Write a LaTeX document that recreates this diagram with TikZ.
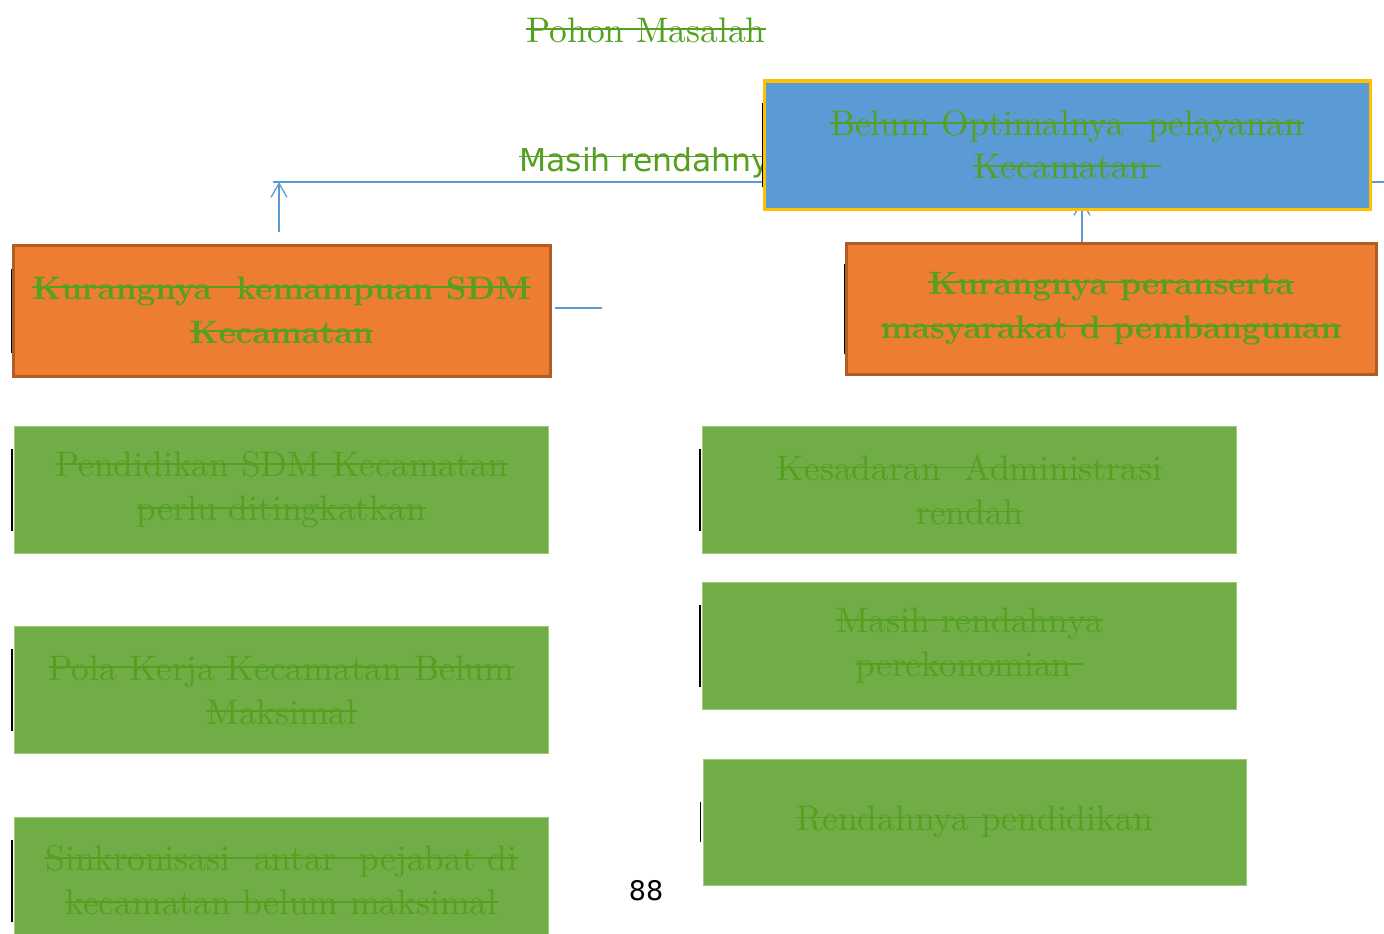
\documentclass[tikz,border=0pt]{standalone}
\usepackage{fontspec}
\usepackage{tikz}
\usetikzlibrary{arrows.meta}

\setmainfont{lmroman10-regular.otf}[BoldFont=lmroman10-bold.otf]
\newfontfamily\labelsans{DejaVu Sans}
\newsavebox\strkbox
\newcommand{\strk}[1]{\sbox\strkbox{#1}\rlap{\rule[.8ex]{\wd\strkbox}{1.7pt}}\usebox\strkbox}

\definecolor{blueFill}{HTML}{5B9BD5}
\definecolor{yellowEdge}{HTML}{FFC000}
\definecolor{orangeFill}{HTML}{ED7D31}
\definecolor{orangeEdge}{HTML}{B25C24}
\definecolor{greenFill}{HTML}{70AD47}
\definecolor{greenEdge}{HTML}{9CCB7C}
\definecolor{textGreen}{HTML}{55A020}

\tikzset{
	problem/.style={shape=rectangle, fill=blueFill, draw=yellowEdge, line width=3pt,
		minimum width=606pt, minimum height=128pt, align=center, text=textGreen,
		font=\fontsize{35.5}{43}\selectfont},
	cause/.style={shape=rectangle, fill=orangeFill, draw=orangeEdge, line width=3pt,
		minimum width=537pt, minimum height=131pt, align=center, text=textGreen,
		font=\bfseries\fontsize{32.5}{44}\selectfont},
	subcause/.style={shape=rectangle, fill=greenFill, draw=greenEdge, line width=1pt,
		minimum width=534pt, minimum height=127pt, align=center, text=textGreen,
		font=\fontsize{35.5}{44}\selectfont},
	link/.style={draw=blueFill, line width=1.3pt},
	edgetick/.style={draw=black, line width=1.2pt}
}

\begin{document}
\begin{tikzpicture}[x=1pt, y=-1pt]
	\useasboundingbox (0,0) rectangle (1384,934);

	% judul
	\node[text=textGreen, font=\fontsize{35.5}{40}\selectfont] (judul) at (646,30) {\strk{Pohon Masalah}};

	% sebab
	\node[cause] (sdm) at (281.5,310.5) {\strk{Kurangnya~ kemampuan SDM}\\\strk{Kecamatan}};
	\node[cause, minimum width=530pt] (peran) at (1111,308.5) {\strk{Kurangnya peranserta}\\\strk{masyarakat d pembangunan}};

	% akar masalah
	\node[subcause] (didik) at (281.5,490) {\strk{Pendidikan SDM Kecamatan}\\\strk{perlu ditingkatkan}};
	\node[subcause] (pola) at (281.5,690) {\strk{Pola Kerja Kecamatan Belum}\\\strk{Maksimal}};
	\node[subcause] (sinkron) at (281.5,880.5) {\strk{Sinkronisasi~ antar~ pejabat di}\\\strk{kecamatan belum maksimal}};
	\node[subcause] (sadar) at (969.5,490) {\strk{Kesadaran~ Administrasi}\\\strk{rendah}};
	\node[subcause] (ekonomi) at (969.5,646) {\strk{Masih rendahnya}\\\strk{perekonomian~}};
	\node[subcause, minimum width=543pt, minimum height=126pt] (rendah) at (974.5,822) {\strk{Rendahnya pendidikan}};

	% penghubung
	\coordinate (lineL) at (273,182);
	\coordinate (lineR) at (1384,182);
	\coordinate (sdmFoot) at (279,232);
	\coordinate (peranTip) at (1082,200);
	\coordinate (stubA) at (555,308);
	\coordinate (stubB) at (602,308);

	\draw[link] (lineL) -- (lineR);
	\draw[link, -{Straight Barb[length=14pt, width=16pt]}] (sdmFoot) -- (sdmFoot |- lineL);
	\draw[link, -{Straight Barb[length=14pt, width=16pt]}] (peran.north -| peranTip) -- (peranTip);
	\draw[link] (stubA) -- (stubB);

	\node[text=textGreen, font=\labelsans\fontsize{31.5}{36}\selectfont, anchor=base west, inner sep=0pt] (masih) at (519,171) {\strk{Masih rendahnya}};

	% masalah inti
	\node[problem] (belum) at (1067,145) {\strk{Belum Optimalnya~ pelayanan}\\\strk{Kecamatan~}};

	% garis tepi
	\draw[edgetick] ([yshift=-42pt]belum.west) -- ([yshift=42pt]belum.west);
	\draw[edgetick] ([yshift=-42pt]sdm.west) -- ([yshift=42pt]sdm.west);
	\draw[edgetick] ([yshift=-45pt]peran.west) -- ([yshift=45pt]peran.west);
	\draw[edgetick] ([shift={(-2pt,-41pt)}]didik.west) -- ([shift={(-2pt,41pt)}]didik.west);
	\draw[edgetick] ([shift={(-2pt,-41pt)}]pola.west) -- ([shift={(-2pt,41pt)}]pola.west);
	\draw[edgetick] ([shift={(-2pt,-41pt)}]sinkron.west) -- ([shift={(-2pt,41pt)}]sinkron.west);
	\draw[edgetick] ([shift={(-2pt,-41pt)}]sadar.west) -- ([shift={(-2pt,41pt)}]sadar.west);
	\draw[edgetick] ([shift={(-2pt,-41pt)}]ekonomi.west) -- ([shift={(-2pt,41pt)}]ekonomi.west);
	\draw[edgetick] ([shift={(-2pt,-20pt)}]rendah.west) -- ([shift={(-2pt,20pt)}]rendah.west);

	% nomor halaman
	\node[font=\labelsans\fontsize{27}{32}\selectfont] (halaman) at (646,891) {88};

\end{tikzpicture}
\end{document}
